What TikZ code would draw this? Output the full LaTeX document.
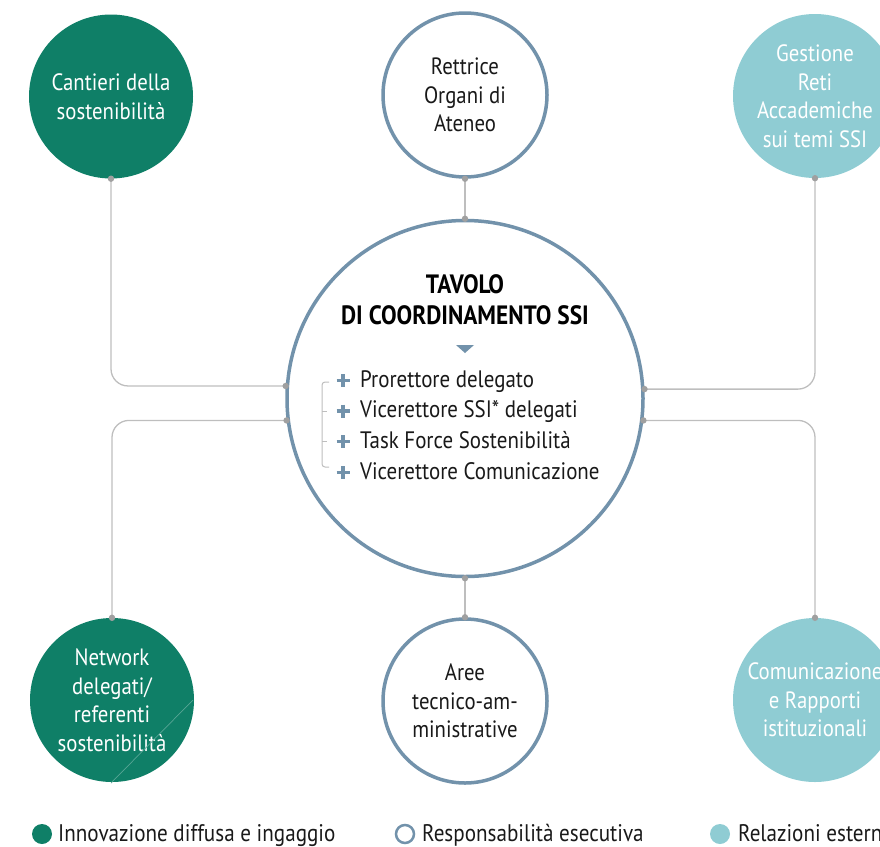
\documentclass[tikz,border=0pt]{standalone}
\usepackage{fontspec}
\setmainfont{PT Sans}[FakeStretch=0.88]
\definecolor{sgreen}{RGB}{15,127,103}
\definecolor{steal}{RGB}{143,204,211}
\definecolor{sborder}{RGB}{114,146,171}
\definecolor{sconn}{RGB}{190,190,190}
\definecolor{sdot}{RGB}{160,160,160}
\definecolor{stext}{RGB}{25,25,25}
\tikzset{
  sat/.style={circle, minimum size=164pt, inner sep=0pt, align=center,
    font=\fontsize{23.6}{28.5}\selectfont},
  greenc/.style={sat, fill=sgreen, text=white},
  tealc/.style={sat, fill=steal, text=white},
  whitec/.style={sat, fill=white, draw=sborder, line width=3.5pt, text=stext},
  conn/.style={draw=sconn, line width=1.3pt, rounded corners=17pt},
  endpt/.style={fill=sdot},
  item/.style={anchor=base west, inner sep=0pt, text=stext,
    font=\fontsize{23.8}{26}\selectfont},
  plussign/.style={draw=sborder, line width=3.4pt},
  brk/.style={draw=sconn, line width=1pt, rounded corners=3pt},
  legtext/.style={anchor=base west, inner sep=0pt, text=stext,
    font=\fontsize{24}{26}\selectfont},
}
\begin{document}
\begin{tikzpicture}[x=1pt,y=-1pt]
\useasboundingbox (0,0) rectangle (880,846);
\clip (0,0) rectangle (880,846);

% central circle
\node[circle, minimum size=356pt, inner sep=0pt, draw=sborder, line width=3.5pt, fill=white] (big) at (465,398.5) {};

% satellites
\node[greenc] (tl) at (111,96.5) {Cantieri della\\sostenibilità};
\node[whitec] (tm) at (465,95) {Rettrice\\Organi di\\Ateneo};
\node[tealc]  (tr) at (815,96) {Gestione\\Reti\\Accademiche\\sui temi SSI};
\node[greenc] (bl) at (112,700) {Network\\delegati/\\referenti\\sostenibilità};
\node[whitec] (bm) at (465,701) {Aree\\tecnico-am-\\ministrative};
\node[tealc]  (br) at (815,700) {Comunicazione\\e Rapporti\\istituzionali};

% faint diagonal on bottom-left circle
\draw[sgreen!70!white, line width=0.7pt] (193,700) -- (111,783);

% connectors
\draw[conn] (tl.south) |- (big.176.8);
\draw[conn] (big.187.1) -| (bl.north);
\draw[conn] (tr.south) |- (big.3.2);
\draw[conn] (big.-7.1) -| (br.north);
\draw[conn] (tm.south) -- (big.north);
\draw[conn] (big.south) -- (bm.north);
\foreach \p in {tl.south, big.176.8, big.187.1, bl.north, tr.south, big.3.2, big.-7.1, br.north, tm.south, big.north, big.south, bm.north}
  \fill[endpt] (\p) circle (3.2pt);

% title
\node[align=center, text=black, font=\bfseries\fontsize{26.5}{31}\selectfont, anchor=base] (title) at (465,324) {TAVOLO\\DI COORDINAMENTO SSI};
\fill[sborder] (456,345) -- (474,345) -- (465,353) -- cycle;

% list
\node[item] (i1) at (360,387) {Prorettore delegato};
\node[item] (i2) at (360,417.5) {Vicerettore SSI* delegati};
\node[item] (i3) at (360,448) {Task Force Sostenibilità};
\node[item] (i4) at (360,479) {Vicerettore Comunicazione};
\foreach \y in {380.5,411,441.5,472.5}{
  \draw[plussign] (336.5,\y) -- (349.5,\y) (343,\y-6.5) -- (343,\y+6.5);
}
\draw[brk] (329,382) -| (322,467) -- (329,467);
\draw[sconn, line width=1pt] (322,411) -- (327,411) (322,441) -- (327,441);

% legend
\node[circle, minimum size=20pt, inner sep=0pt, fill=sgreen] (lg1) at (42,834) {};
\node[legtext] (lt1) at (58,841) {Innovazione diffusa e ingaggio};
\node[circle, minimum size=18pt, inner sep=0pt, draw=sborder, line width=2.5pt, fill=white] (lg2) at (405,834) {};
\node[legtext] (lt2) at (422,841) {Responsabilità esecutiva};
\node[circle, minimum size=20pt, inner sep=0pt, fill=steal] (lg3) at (720,834) {};
\node[legtext] (lt3) at (738,841) {Relazioni esterne};
\end{tikzpicture}
\end{document}
